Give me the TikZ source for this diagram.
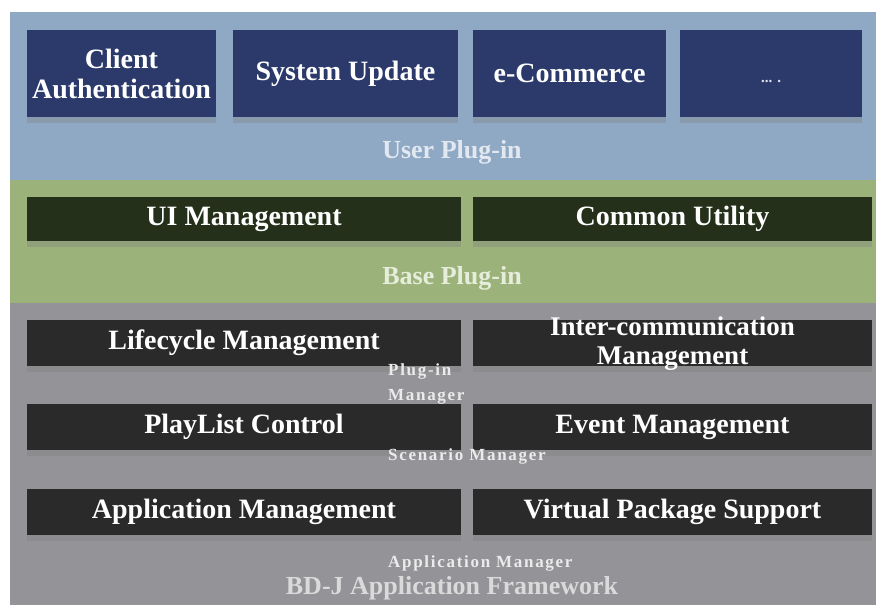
\documentclass[tikz,border=0pt]{standalone}
\usepackage{fontspec}
\setmainfont{Liberation Serif}
\newfontfamily\tagfont[LetterSpace=10]{Liberation Serif}
\usetikzlibrary{shadows}

\definecolor{userband}{HTML}{8FA8C4}
\definecolor{baseband}{HTML}{9BB27A}
\definecolor{fwband}{HTML}{939398}
\definecolor{userbox}{HTML}{2B3A6B}
\definecolor{basebox}{HTML}{243019}
\definecolor{fwbox}{HTML}{2A2A2A}
\definecolor{userlabel}{HTML}{E2E8F0}
\definecolor{baselabel}{HTML}{E6EDDA}
\definecolor{fwlabel}{HTML}{DADADA}

\begin{document}
\begin{tikzpicture}[x=1pt,y=-1pt,
  box/.style={rectangle, inner sep=0pt, align=center, text=white,
    font=\bfseries\fontsize{28}{30}\selectfont,
    drop shadow={opacity=0.35, shadow xshift=0pt, shadow yshift=-6pt}},
  userboxstyle/.style={box, fill=userbox},
  baseboxstyle/.style={box, fill=basebox, minimum height=44pt},
  fwboxstyle/.style={box, fill=fwbox, minimum height=46pt},
  bandlabel/.style={font=\bfseries\fontsize{26}{28}\selectfont},
  tag/.style={font=\tagfont\bfseries\fontsize{17}{25}\selectfont, text=white!92!black, align=left, inner sep=0pt}
]
\useasboundingbox (0,0) rectangle (876,605);

% layer bands
\fill[userband] (10,12) rectangle (876,180);
\fill[baseband] (10,180) rectangle (876,303);
\fill[fwband] (10,303) rectangle (876,605);

% user plug-in layer
\node[userboxstyle, minimum width=189pt, minimum height=87pt] (auth) at (121.5,73.5) {Client\\Authentication};
\node[userboxstyle, minimum width=225pt, minimum height=87pt] (update) at (345.5,73.5) {System Update};
\node[userboxstyle, minimum width=193pt, minimum height=87pt] (ecom) at (569.5,73.5) {e-Commerce};
\node[userboxstyle, minimum width=182pt, minimum height=87pt, font=\bfseries\fontsize{15}{17}\selectfont, text=white!85!userbox] (more) at (771,73.5) {\smash{\raisebox{-9pt}{... .}}};
\node[bandlabel, text=userlabel] (userlbl) at (452,152) {User Plug-in};

% base plug-in layer
\node[baseboxstyle, minimum width=434pt] (ui) at (244,219) {UI Management};
\node[baseboxstyle, minimum width=399pt] (util) at (672.5,219) {Common Utility};
\node[bandlabel, text=baselabel] (baselbl) at (452,278) {Base Plug-in};

% application framework layer
\node[fwboxstyle, minimum width=434pt] (life) at (244,343) {Lifecycle Management};
\node[fwboxstyle, minimum width=399pt, font=\bfseries\fontsize{27}{29}\selectfont] (comm) at (672.5,343)
  {\smash{\raisebox{-7pt}{\begin{tabular}{@{}c@{}}Inter-communication\\[0pt]Management\end{tabular}}}};
\node[fwboxstyle, minimum width=434pt] (play) at (244,427) {PlayList Control};
\node[fwboxstyle, minimum width=399pt] (event) at (672.5,427) {Event Management};
\node[fwboxstyle, minimum width=434pt] (app) at (244,512) {Application Management};
\node[fwboxstyle, minimum width=399pt] (vps) at (672.5,512) {Virtual Package Support};
\node[bandlabel, text=fwlabel] (fwlbl) at (452,588) {BD-J Application Framework};

% manager tags
\node[tag, anchor=west] (plugmgr) at (388,384) {Plug-in\\Manager};
\node[tag, anchor=west] (scenmgr) at (388,456) {Scenario Manager};
\node[tag, anchor=west] (appmgr) at (388,563) {Application Manager};
\end{tikzpicture}
\end{document}
